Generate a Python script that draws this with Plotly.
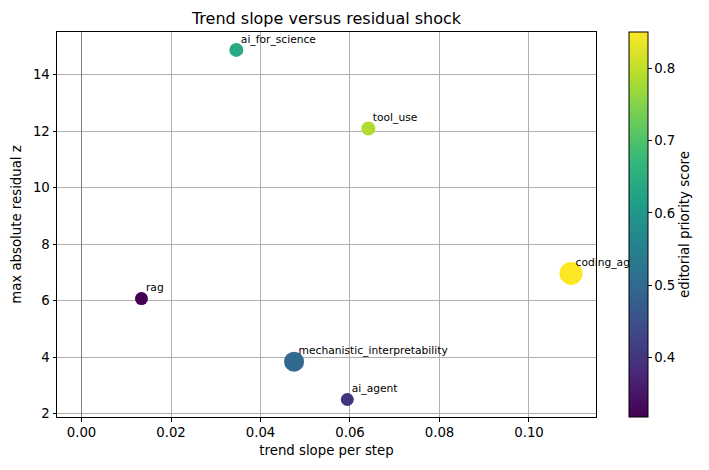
import plotly.graph_objects as go

topics = ["ai_for_science", "tool_use", "coding_agent", "rag",
          "mechanistic_interpretability", "ai_agent"]
trend_slope = [0.0346, 0.0641, 0.1094, 0.0134, 0.0475, 0.0594]
max_abs_resid_z = [14.87, 12.09, 6.96, 6.07, 3.84, 2.50]
priority_score = [0.637, 0.785, 0.850, 0.318, 0.500, 0.398]
marker_diam = [14, 14, 23, 13, 20, 13]

FONT = "DejaVu Sans"

fig = go.Figure()

fig.add_trace(go.Scatter(
    x=trend_slope, y=max_abs_resid_z, mode="markers",
    marker=dict(size=marker_diam, color=priority_score, colorscale="Viridis",
                cmin=0.318, cmax=0.85, opacity=1, line=dict(width=0),
                colorbar=dict(
                    x=1.0612, xanchor="left", y=0.5, yanchor="middle",
                    len=1, lenmode="fraction", thickness=19, thicknessmode="pixels",
                    xpad=0, ypad=0,
                    outlinewidth=1, outlinecolor="black",
                    tickvals=[0.4, 0.5, 0.6, 0.7, 0.8],
                    ticktext=["0.4", "0.5", "0.6", "0.7", "0.8"],
                    ticks="outside", ticklen=3.5, tickwidth=1, tickcolor="black",
                    tickfont=dict(family=FONT, size=13.3, color="black"),
                    title=dict(text="editorial priority score", side="right",
                               font=dict(family=FONT, size=13.3, color="black")),
                )),
    showlegend=False, hoverinfo="skip", cliponaxis=False,
))

# labels (drawn in the plot layer so the colorbar covers overflow, like the reference)
fig.add_trace(go.Scatter(
    x=trend_slope, y=max_abs_resid_z, mode="markers+text",
    text=topics, textposition="top right",
    textfont=dict(family=FONT, size=10.7, color="black"),
    marker=dict(size=5.6, opacity=0),
    showlegend=False, hoverinfo="skip", cliponaxis=False,
))

fig.add_shape(type="line", xref="x", yref="paper", x0=0, x1=0, y0=0, y1=1,
              line=dict(color="#808080", width=1), layer="above")

fig.update_layout(
    width=709, height=470,
    margin=dict(l=57, r=113, t=32, b=53, autoexpand=False),
    paper_bgcolor="white", plot_bgcolor="white",
    font=dict(family=FONT, size=13.3, color="black"),
    title=dict(text="Trend slope versus residual shock", x=0.4605, xanchor="center",
               y=1 - 18 / 470, yanchor="middle", yref="container",
               font=dict(family=FONT, size=16, color="black")),
    xaxis=dict(range=[-0.005475, 0.114975], tickvals=[0, 0.02, 0.04, 0.06, 0.08, 0.10],
               ticktext=["0.00", "0.02", "0.04", "0.06", "0.08", "0.10"],
               showgrid=True, gridcolor="#b0b0b0", gridwidth=0.8, zeroline=False,
               showline=True, linecolor="black", linewidth=1, mirror=True,
               ticks="outside", ticklen=3.5, tickcolor="black",
               tickfont=dict(family=FONT, size=13.3, color="black"),
               title=dict(text="trend slope per step", standoff=6,
                          font=dict(family=FONT, size=13.3, color="black"))),
    yaxis=dict(range=[1.881, 15.504], tickvals=[2, 4, 6, 8, 10, 12, 14],
               showgrid=True, gridcolor="#b0b0b0", gridwidth=0.8, zeroline=False,
               showline=True, linecolor="black", linewidth=1, mirror=True,
               ticks="outside", ticklen=3.5, tickcolor="black",
               tickfont=dict(family=FONT, size=13.3, color="black"),
               title=dict(text="max absolute residual z", standoff=8,
                          font=dict(family=FONT, size=13.3, color="black"))),
)

fig.write_html("out.html")
